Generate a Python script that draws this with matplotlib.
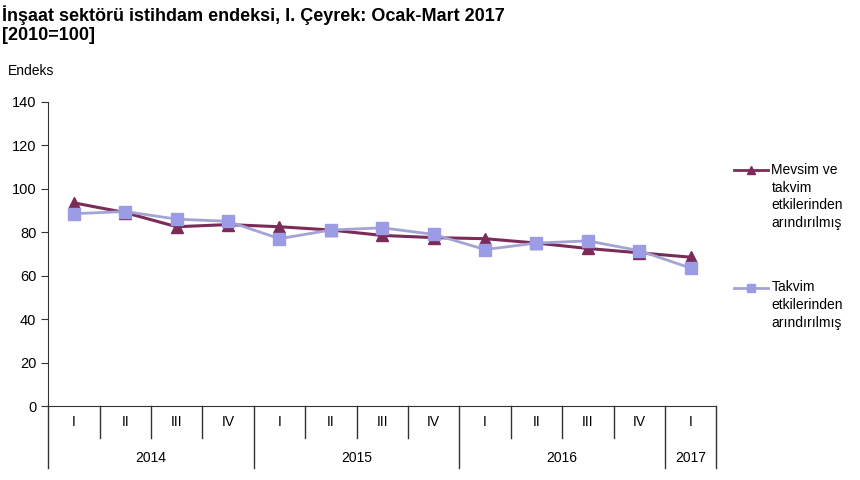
import numpy as np
import matplotlib.pyplot as plt
from matplotlib.transforms import blended_transform_factory

plt.rcParams['font.family'] = ['Liberation Sans', 'DejaVu Sans']

quarters = ["I", "II", "III", "IV", "I", "II", "III", "IV", "I", "II", "III", "IV", "I"]
years = ["2014", "2015", "2016", "2017"]
year_counts = [4, 4, 4, 1]

mevsim = [93.5, 89, 82.5, 83.5, 82.5, 81, 78.5, 77.5, 77, 75, 72.5, 70.5, 68.5]
takvim = [88.5, 89.5, 86, 85, 77, 81, 82, 79, 72, 75, 76, 71.5, 63.5]

label_mevsim = "Mevsim ve\ntakvim\netkilerinden\narındırılmış"
label_takvim = "Takvim\netkilerinden\narındırılmış"

c_dark = "#7b2b57"
c_light = "#9b9be6"

fig = plt.figure(figsize=(8.6, 4.8), dpi=100)
ax = fig.add_axes([0.056, 0.154, 0.777, 0.634])

x = np.arange(len(quarters))
ax.plot(x, takvim, color="#a4a4d4", lw=2, marker="s", ms=9,
        mfc=c_light, mec=c_light, zorder=3)
ax.plot(x, mevsim, color=c_dark, lw=2.2, marker="^", ms=8,
        mfc=c_dark, mec=c_dark, zorder=2)

ax.set_xlim(-0.5, len(quarters) - 0.5)
ax.set_ylim(0, 140)
ax.set_yticks(np.arange(0, 141, 20))
ax.tick_params(axis="y", labelsize=10.5, length=5, direction="out", color="#333333")
ax.set_xticks([])
for s in ["top", "right"]:
    ax.spines[s].set_visible(False)
ax.spines["left"].set_color("#333333")
ax.spines["bottom"].set_color("#333333")

# category axis with separators
tr = blended_transform_factory(ax.transData, ax.transAxes)
year_bounds = np.cumsum([0] + year_counts) - 0.5
for b in np.arange(len(quarters) + 1) - 0.5:
    low = -0.205 if b in year_bounds else -0.105
    ax.plot([b, b], [0, low], transform=tr, color="#333333", lw=1, clip_on=False)
for i, q in enumerate(quarters):
    ax.text(i, -0.052, q, transform=tr, ha="center", va="center", fontsize=10)
start = 0
for y, n in zip(years, year_counts):
    ax.text(start + (n - 1) / 2, -0.172, y, transform=tr, ha="center", va="center",
            fontsize=10)
    start += n

fig.text(0.002, 0.968, "İnşaat sektörü istihdam endeksi, I. Çeyrek: Ocak-Mart 2017",
         fontsize=13, fontweight="bold", ha="left", va="center")
fig.text(0.002, 0.925, "[2010=100]", fontsize=13, fontweight="bold", ha="left", va="center")
fig.text(0.009, 0.852, "Endeks", fontsize=10, ha="left", va="center")

# legend
for yy, col, lc, mk, ms, lab in [(0.645, c_dark, c_dark, "^", 6, label_mevsim),
                                  (0.4, c_light, "#a4a4d4", "s", 6, label_takvim)]:
    fig.add_artist(plt.Line2D([0.853, 0.893], [yy, yy], color=lc, lw=2,
                              transform=fig.transFigure))
    fig.add_artist(plt.Line2D([0.873], [yy], marker=mk, ms=ms, color=col,
                              transform=fig.transFigure))
    fig.text(0.897, yy + 0.016, lab, fontsize=10, ha="left", va="top",
             linespacing=1.35)

fig.savefig("out.png", dpi=100)
